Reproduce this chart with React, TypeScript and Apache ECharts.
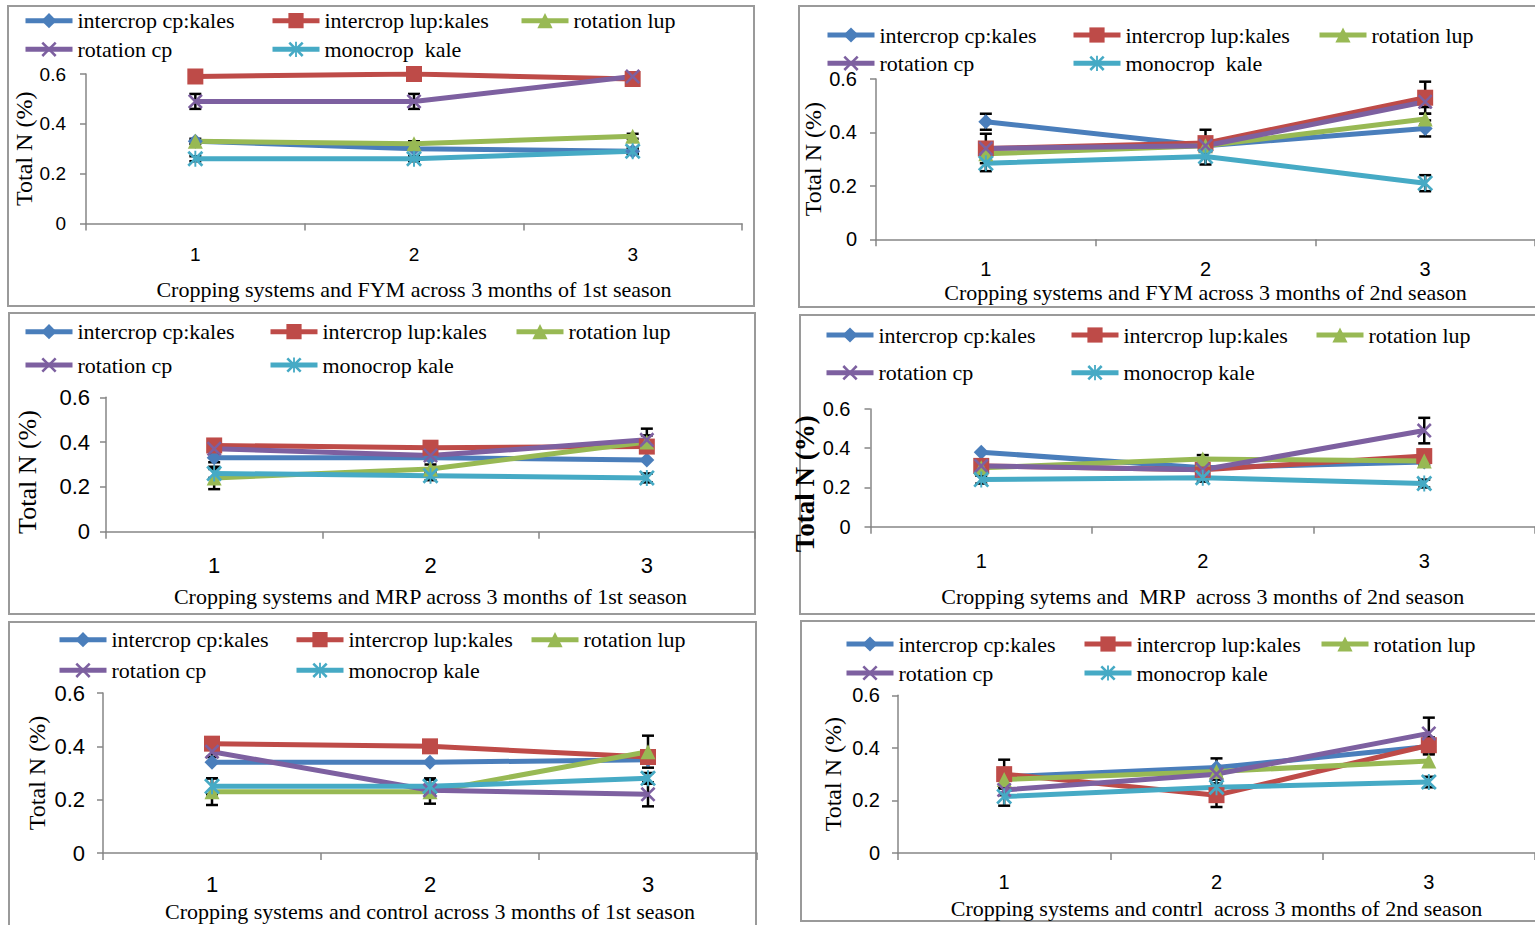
import React, { useEffect, useRef } from 'react';
import * as echarts from 'echarts';

// ---------- data ----------
const categories = ['1', '2', '3'];
const seriesNamesA = ['intercrop cp:kales', 'intercrop lup:kales', 'rotation lup', 'rotation cp', 'monocrop  kale'];
const seriesNamesB = ['intercrop cp:kales', 'intercrop lup:kales', 'rotation lup', 'rotation cp', 'monocrop kale'];
const yTicks = [0, 0.2, 0.4, 0.6];

// order of rows: cp:kales, lup:kales, rotation lup, rotation cp, monocrop kale
const fym1Values = [
  [0.33, 0.30, 0.29],
  [0.59, 0.60, 0.58],
  [0.33, 0.32, 0.35],
  [0.49, 0.49, 0.59],
  [0.26, 0.26, 0.29],
];
const fym1Errors = [
  [0, 0, 0.01],
  [0, 0, 0],
  [0.01, 0.01, 0.01],
  [0.03, 0.03, 0.01],
  [0.01, 0.01, 0.01],
];
const fym2Values = [
  [0.44, 0.35, 0.415],
  [0.34, 0.36, 0.53],
  [0.32, 0.35, 0.45],
  [0.34, 0.35, 0.515],
  [0.285, 0.31, 0.21],
];
const fym2Errors = [
  [0.03, 0.02, 0.03],
  [0.055, 0.05, 0.06],
  [0.02, 0.02, 0.02],
  [0.02, 0.02, 0.02],
  [0.03, 0.03, 0.03],
];
const mrp1Values = [
  [0.33, 0.33, 0.32],
  [0.385, 0.375, 0.38],
  [0.24, 0.28, 0.40],
  [0.37, 0.34, 0.41],
  [0.26, 0.25, 0.24],
];
const mrp1Errors = [
  [0.02, 0, 0],
  [0, 0, 0],
  [0.05, 0.02, 0.03],
  [0.02, 0.02, 0.05],
  [0.02, 0.02, 0.02],
];
const mrp2Values = [
  [0.38, 0.30, 0.33],
  [0.31, 0.29, 0.36],
  [0.30, 0.345, 0.335],
  [0.31, 0.29, 0.49],
  [0.24, 0.25, 0.22],
];
const mrp2Errors = [
  [0, 0, 0],
  [0, 0, 0],
  [0.02, 0.02, 0.02],
  [0.02, 0.02, 0.065],
  [0.02, 0.02, 0.02],
];
const ctl1Values = [
  [0.34, 0.34, 0.35],
  [0.41, 0.40, 0.36],
  [0.23, 0.23, 0.38],
  [0.38, 0.235, 0.22],
  [0.25, 0.25, 0.28],
];
const ctl1Errors = [
  [0, 0, 0],
  [0, 0, 0],
  [0.05, 0.045, 0.06],
  [0.02, 0.02, 0.045],
  [0.03, 0.03, 0.02],
];
const ctl2Values = [
  [0.29, 0.325, 0.405],
  [0.30, 0.22, 0.41],
  [0.28, 0.31, 0.35],
  [0.24, 0.30, 0.455],
  [0.215, 0.25, 0.27],
];
const ctl2Errors = [
  [0.03, 0.035, 0.03],
  [0.055, 0.045, 0.03],
  [0, 0, 0],
  [0.02, 0.02, 0.06],
  [0.035, 0.03, 0.02],
];

const xTitles = [
  'Cropping systems and FYM across 3 months of 1st season',
  'Cropping systems and FYM across 3 months of 2nd season',
  'Cropping systems and MRP across 3 months of 1st season',
  'Cropping sytems and  MRP  across 3 months of 2nd season',
  'Cropping systems and control across 3 months of 1st season',
  'Cropping systems and contrl  across 3 months of 2nd season',
];
const yTitle = 'Total N (%)';

// ---------- styles / layout ----------
const SERIF = "'Liberation Serif','Times New Roman',serif";
const SANS = "'Liberation Sans',Arial,sans-serif";
const COLORS = ['#4A7EBB', '#BE4B48', '#98B954', '#7D60A0', '#46AAC5'];
const XPATH = 'path://M0,1.2L1.2,0L5,3.8L8.8,0L10,1.2L6.2,5L10,8.8L8.8,10L5,6.2L1.2,10L0,8.8L3.8,5Z';
const STARPATH = 'path://M0,1.2L1.2,0L4.4,3.2L4.4,0L5.6,0L5.6,3.2L8.8,0L10,1.2L6.2,5L10,8.8L8.8,10L5.6,6.8L5.6,10L4.4,10L4.4,6.8L1.2,10L0,8.8L3.8,5Z';
const SYMBOLS = ['diamond', 'rect', 'triangle', XPATH, STARPATH];
const SYMBOL_SIZES = [15, 16, 15, 15, 16];

type Panel = {
  values: number[][];
  errors: number[][];
  names: string[];
  grid: { left: number; top: number; width: number; height: number };
  border: { x: number; y: number; width: number; height: number };
  legendCols: number[];
  legendRows: number[];
  tickFont: number;
  labelMarginY: number;
  labelMarginX: number;
  xNameGap: number;
  yNameGap: number;
  yNameSize: number;
  yNameBold: boolean;
  yNameShift: number;
};

const panels: Panel[] = [
  {
    values: fym1Values, errors: fym1Errors, names: seriesNamesA,
    grid: { left: 86, top: 74, width: 656, height: 149.5 },
    border: { x: 8, y: 6, width: 746, height: 300 },
    legendCols: [23, 270, 519], legendRows: [20.7, 49.3],
    tickFont: 19, labelMarginY: 20, labelMarginX: 21, xNameGap: 55, yNameGap: 49, yNameSize: 24, yNameBold: false, yNameShift: 0,
  },
  {
    values: fym2Values, errors: fym2Errors, names: seriesNamesA,
    grid: { left: 876, top: 79, width: 659, height: 160.3 },
    border: { x: 799, y: 6, width: 760, height: 301 },
    legendCols: [825, 1071, 1317], legendRows: [35, 63.3],
    tickFont: 20, labelMarginY: 19, labelMarginX: 20, xNameGap: 42, yNameGap: 49, yNameSize: 24, yNameBold: false, yNameShift: 0,
  },
  {
    values: mrp1Values, errors: mrp1Errors, names: seriesNamesB,
    grid: { left: 106, top: 397.3, width: 649, height: 134.4 },
    border: { x: 9, y: 313, width: 746, height: 301 },
    legendCols: [23, 268, 514], legendRows: [331.7, 365],
    tickFont: 22, labelMarginY: 16, labelMarginX: 23, xNameGap: 54, yNameGap: 66, yNameSize: 26, yNameBold: false, yNameShift: 15,
  },
  {
    values: mrp2Values, errors: mrp2Errors, names: seriesNamesB,
    grid: { left: 870.5, top: 409, width: 667, height: 117.7 },
    border: { x: 800, y: 315, width: 760, height: 299 },
    legendCols: [824, 1069, 1314], legendRows: [335, 372.7],
    tickFont: 20, labelMarginY: 20, labelMarginX: 24, xNameGap: 59, yNameGap: 37, yNameSize: 27, yNameBold: true, yNameShift: 32,
  },
  {
    values: ctl1Values, errors: ctl1Errors, names: seriesNamesB,
    grid: { left: 103, top: 693, width: 654, height: 160 },
    border: { x: 9, y: 622, width: 747, height: 320 },
    legendCols: [57, 294, 529], legendRows: [639.7, 670.3],
    tickFont: 22, labelMarginY: 18, labelMarginX: 20, xNameGap: 47, yNameGap: 54, yNameSize: 24, yNameBold: false, yNameShift: 0,
  },
  {
    values: ctl2Values, errors: ctl2Errors, names: seriesNamesB,
    grid: { left: 898, top: 695.3, width: 650, height: 157.7 },
    border: { x: 801, y: 621, width: 760, height: 300 },
    legendCols: [844, 1082, 1319], legendRows: [644, 673],
    tickFont: 20, labelMarginY: 18, labelMarginX: 19, xNameGap: 44, yNameGap: 53, yNameSize: 24, yNameBold: false, yNameShift: 0,
  },
];

function buildOption() {
  const grids: any[] = [];
  const xAxes: any[] = [];
  const yAxes: any[] = [];
  const series: any[] = [];
  const legends: any[] = [];
  const graphics: any[] = [];

  panels.forEach((p, pi) => {
    grids.push({ left: p.grid.left, top: p.grid.top, width: p.grid.width, height: p.grid.height, containLabel: false });
    xAxes.push({
      type: 'category', gridIndex: pi, data: categories, boundaryGap: true,
      axisLine: { show: true, lineStyle: { color: '#868686', width: 1.5 } },
      axisTick: { show: true, length: 7, lineStyle: { color: '#868686', width: 1.5 } },
      axisLabel: { fontFamily: SANS, fontSize: p.tickFont, color: '#000', margin: p.labelMarginX },
      splitLine: { show: false },
      name: xTitles[pi], nameLocation: 'middle', nameGap: p.xNameGap,
      nameTextStyle: { fontFamily: SERIF, fontSize: 22, color: '#000' },
    });
    yAxes.push({
      type: 'value', gridIndex: pi, min: yTicks[0], max: yTicks[yTicks.length - 1], interval: 0.2,
      axisLine: { show: true, lineStyle: { color: '#868686', width: 1.5 } },
      axisTick: { show: true, length: 6, lineStyle: { color: '#868686', width: 1.5 } },
      axisLabel: {
        fontFamily: SANS, fontSize: p.tickFont, color: '#000', margin: p.labelMarginY,
        formatter: (v: number) => (v === 0 ? '0' : v.toFixed(1)),
      },
      splitLine: { show: false },
      name: yTitle, nameLocation: 'middle', nameRotate: 90, nameGap: p.yNameGap,
      nameTextStyle: {
        fontFamily: SERIF, fontSize: p.yNameSize, color: '#000',
        fontWeight: p.yNameBold ? 'bold' : 'normal',
        padding: [0, p.yNameShift, 0, 0],
      },
    });

    const errData: number[][] = [];
    p.values.forEach((vals, si) => {
      series.push({
        type: 'line', name: p.names[si], xAxisIndex: pi, yAxisIndex: pi, data: vals,
        symbol: SYMBOLS[si], symbolSize: SYMBOL_SIZES[si], showAllSymbol: true,
        lineStyle: { width: 5, color: COLORS[si] }, itemStyle: { color: COLORS[si] },
        z: 3, silent: true,
      });
      vals.forEach((v, ci) => {
        const e = p.errors[si][ci];
        if (e > 0) errData.push([ci, v, e]);
      });
    });
    series.push({
      type: 'custom', name: 'error bars ' + (pi + 1), xAxisIndex: pi, yAxisIndex: pi,
      data: errData, encode: { x: 0, y: 1 }, z: 2, silent: true, clip: false,
      renderItem: (params: any, api: any) => {
        const c = api.value(0);
        const v = api.value(1);
        const e = api.value(2);
        const top = api.coord([c, v + e]);
        const bot = api.coord([c, v - e]);
        const hw = 6;
        const st = { stroke: '#000', lineWidth: 2.5 };
        return {
          type: 'group',
          children: [
            { type: 'line', shape: { x1: top[0], y1: top[1], x2: bot[0], y2: bot[1] }, style: st },
            { type: 'line', shape: { x1: top[0] - hw, y1: top[1], x2: top[0] + hw, y2: top[1] }, style: st },
            { type: 'line', shape: { x1: bot[0] - hw, y1: bot[1], x2: bot[0] + hw, y2: bot[1] }, style: st },
          ],
        };
      },
    });

    p.names.forEach((n, si) => {
      const row = si < 3 ? 0 : 1;
      const col = si < 3 ? si : si - 3;
      legends.push({
        data: [n], left: p.legendCols[col], top: p.legendRows[row] - 11, padding: 0,
        itemWidth: 47, itemHeight: 19, itemGap: 0, selectedMode: false,
        lineStyle: { width: 5 },
        textStyle: { fontFamily: SERIF, fontSize: 22, color: '#000' },
      });
    });

    graphics.push({
      type: 'rect', shape: { x: p.border.x, y: p.border.y, width: p.border.width, height: p.border.height },
      style: { fill: 'none', stroke: '#9a9a9a', lineWidth: 2 }, silent: true, z: 0,
    });
  });

  return {
    animation: false,
    backgroundColor: '#ffffff',
    grid: grids,
    xAxis: xAxes,
    yAxis: yAxes,
    legend: legends,
    series,
    graphic: graphics,
  };
}

export default function App() {
  const ref = useRef<HTMLDivElement>(null);
  useEffect(() => {
    if (!ref.current) return;
    const chart = echarts.init(ref.current, undefined, { renderer: 'svg' });
    chart.setOption(buildOption() as any);
    return () => chart.dispose();
  }, []);
  return (
    <div
      ref={ref}
      style={{ position: 'fixed', left: 0, top: 0, width: 1535, height: 925, background: '#fff' }}
    />
  );
}
